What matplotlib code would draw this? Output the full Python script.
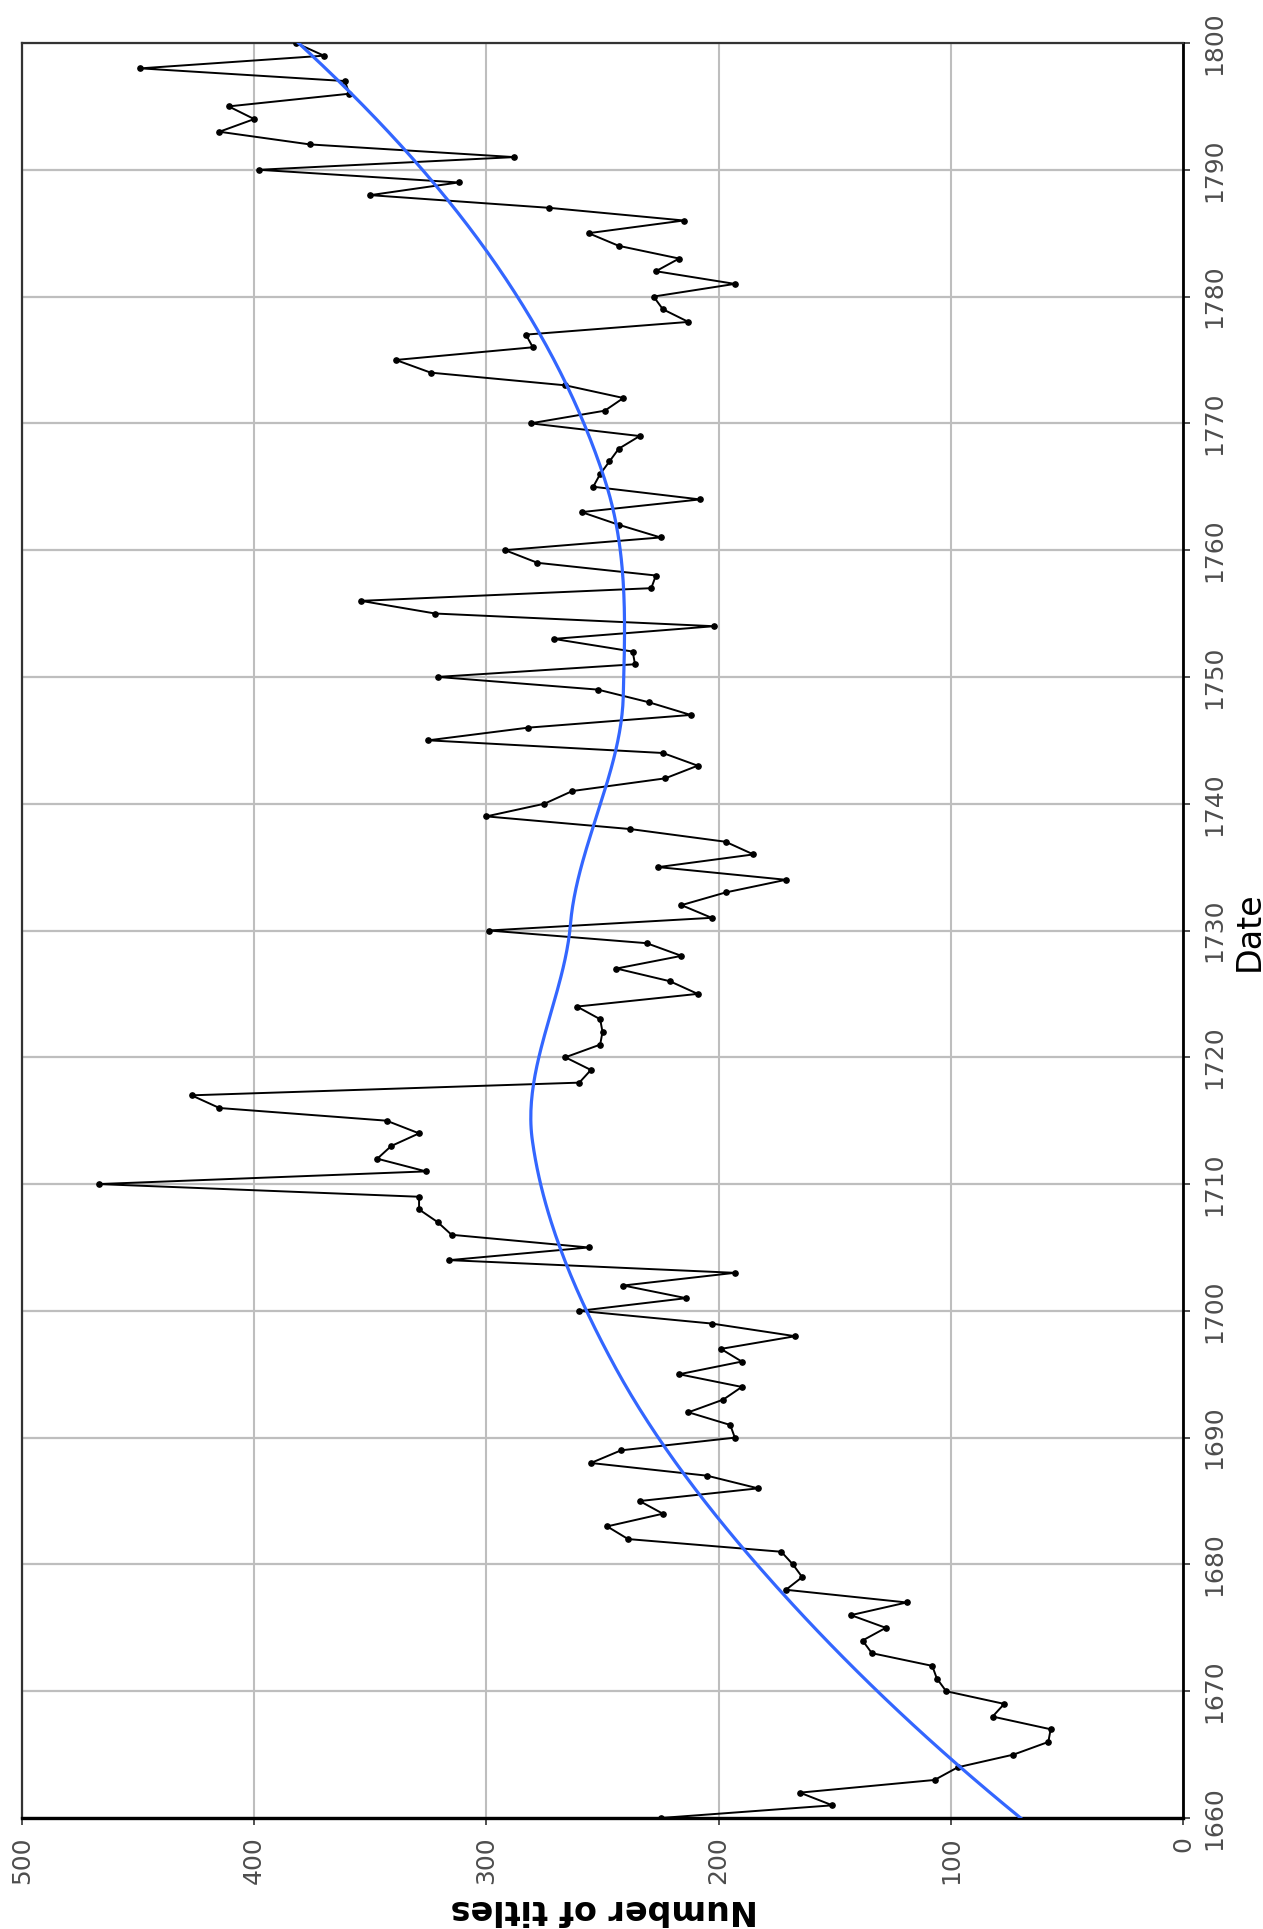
import numpy as np
import matplotlib
matplotlib.use("Agg")
import matplotlib.pyplot as plt

# Annual counts of published titles, 1660-1800
years = list(range(1660, 1801))
titles = [
    225, 151, 165, 107, 97, 73, 58, 57, 82, 77,        # 1660-1669
    102, 106, 108, 134, 138, 128, 143, 119, 171, 164,  # 1670-1679
    168, 173, 239, 248, 224, 234, 183, 205, 255, 242,  # 1680-1689
    193, 195, 213, 198, 190, 217, 190, 199, 167, 203,  # 1690-1699
    260, 214, 241, 193, 316, 256, 315, 321, 329, 329,  # 1700-1709
    467, 326, 347, 341, 329, 343, 415, 427, 260, 255,  # 1710-1719
    266, 251, 250, 251, 261, 209, 221, 244, 216, 231,  # 1720-1729
    299, 203, 216, 197, 171, 226, 185, 197, 238, 300,  # 1730-1739
    275, 263, 223, 209, 224, 325, 282, 212, 230, 252,  # 1740-1749
    321, 236, 237, 271, 202, 322, 354, 229, 227, 278,  # 1750-1759
    292, 225, 243, 259, 208, 254, 251, 247, 243, 234,  # 1760-1769
    281, 249, 241, 266, 324, 339, 280, 283, 213, 224,  # 1770-1779
    228, 193, 227, 217, 243, 256, 215, 273, 350, 312,  # 1780-1789
    398, 288, 376, 415, 400, 411, 359, 361, 449, 370,  # 1790-1799
    382,                                               # 1800
]

count_ticks = [0, 100, 200, 300, 400, 500]
year_ticks = list(range(1660, 1801, 10))


def local_fit(x, y, x0, q, degree=2):
    """Tricube-weighted local polynomial: value and slope at x0."""
    d = np.abs(x - x0)
    h = np.sort(d)[q - 1]
    w = np.clip(1 - (d / h) ** 3, 0, None) ** 3
    X = np.vander(x - x0, degree + 1, increasing=True)
    sw = np.sqrt(w)
    beta, *_ = np.linalg.lstsq(X * sw[:, None], y * sw, rcond=None)
    return beta[0], beta[1]


def loess_curve(x, y, x_eval, span=0.75, cell=0.2):
    """Loess evaluated on a k-d cell grid and joined by cubic Hermite pieces."""
    x = np.asarray(x, float)
    y = np.asarray(y, float)
    n = len(x)
    q = int(np.floor(n * span))
    fc = int(np.floor(n * span * cell))
    order = np.argsort(x)
    xs = x[order]
    mu = 0.005 * (xs[-1] - xs[0])
    verts = {xs[0] - mu, xs[-1] + mu}

    def split(lo, hi):
        if hi - lo + 1 <= fc:
            return
        m = (lo + hi) // 2
        v = (xs[m] + xs[m + 1]) / 2
        verts.add(v)
        split(lo, m)
        split(m + 1, hi)

    split(0, n - 1)
    vx = np.array(sorted(verts))
    fits = np.array([local_fit(x, y, v, q) for v in vx])
    vals, slopes = fits[:, 0], fits[:, 1]

    out = np.empty(len(x_eval))
    for i, xe in enumerate(x_eval):
        j = np.clip(np.searchsorted(vx, xe) - 1, 0, len(vx) - 2)
        x0, x1 = vx[j], vx[j + 1]
        hlen = x1 - x0
        t = (xe - x0) / hlen
        h00 = 2 * t**3 - 3 * t**2 + 1
        h10 = t**3 - 2 * t**2 + t
        h01 = -2 * t**3 + 3 * t**2
        h11 = t**3 - t**2
        out[i] = (h00 * vals[j] + h10 * hlen * slopes[j]
                  + h01 * vals[j + 1] + h11 * hlen * slopes[j + 1])
    return out


grid = np.linspace(years[0], years[-1], 400)
smooth = loess_curve(years, titles, grid)

W, H = 1263, 1929
fig = plt.figure(figsize=(W / 100, H / 100), dpi=100)
ax = fig.add_axes([22 / W, (H - 1818) / H, (1183 - 22) / W, (1818 - 43) / H])

grid_col = "#BEBEBE"
for c in count_ticks:
    ax.axvline(c, color=grid_col, lw=1.5, zorder=0)
for yr in year_ticks:
    ax.axhline(yr, color=grid_col, lw=1.6, zorder=0)

ax.plot(titles, years, color="black", lw=1.4, marker="o", ms=3.8,
        zorder=3, solid_joinstyle="miter")
ax.plot(smooth, grid, color="#3366FF", lw=2.3, zorder=4)

ax.set_xlim(500, 0)
ax.set_ylim(1660, 1800)

ax.set_xticks(count_ticks)
ax.set_xticklabels([str(c) for c in count_ticks], rotation=90,
                   ha="center", va="top")
ax.yaxis.tick_right()
ax.set_yticks(year_ticks)
ax.set_yticklabels([str(y) for y in year_ticks], rotation=90,
                   ha="left", va="center")

ax.tick_params(axis="both", labelsize=18, labelcolor="#4D4D4D",
               color="#333333", length=5, width=1.2)
ax.tick_params(axis="x", pad=8)
ax.tick_params(axis="y", pad=9)

for side in ("left", "top"):
    ax.spines[side].set_color("#333333")
    ax.spines[side].set_linewidth(1.6)
ax.spines["bottom"].set_color("black")
ax.spines["bottom"].set_linewidth(2.4)
ax.spines["right"].set_color("black")
ax.spines["right"].set_linewidth(2.0)

fig.text(604 / W, 1 - 1910 / H, "Number of titles", rotation=180,
         ha="center", va="center", fontsize=24, fontweight="bold")
fig.text(1249 / W, 1 - 931 / H, "Date", rotation=90,
         ha="center", va="center", fontsize=24)

fig.savefig("out.png", dpi=100, facecolor="white")
